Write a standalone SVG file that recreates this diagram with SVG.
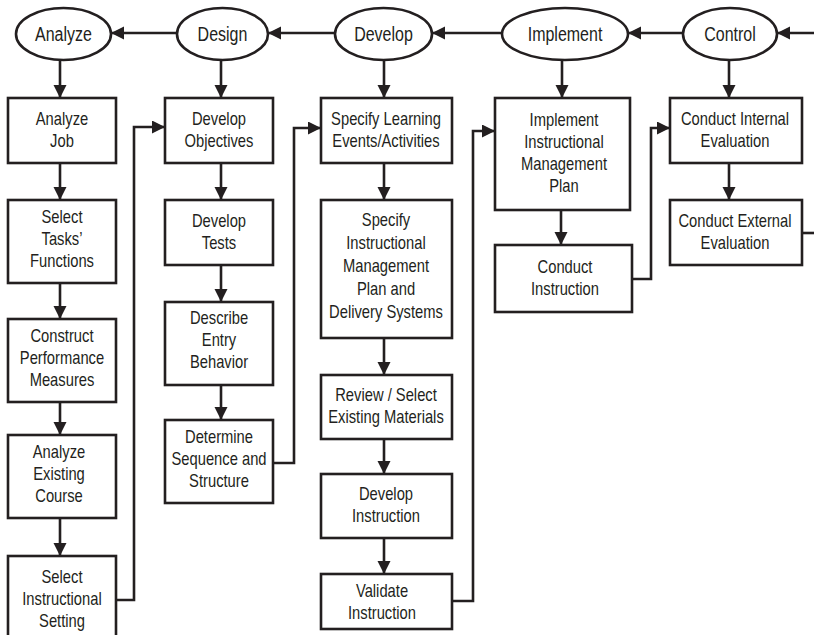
<svg xmlns="http://www.w3.org/2000/svg" width="814" height="635" viewBox="0 0 814 635">
<style>
.bg{fill:#ffffff}
.box{fill:#ffffff;stroke:#231f20;stroke-width:2.6}
.ell{fill:#ffffff;stroke:#231f20;stroke-width:2.6}
.ln{fill:none;stroke:#231f20;stroke-width:2.6}
.arr{marker-end:url(#ah)}
text{font-family:"Liberation Sans",Arial,sans-serif;fill:#231f20;text-anchor:middle}
.t{font-size:18px}
.e{font-size:19.5px}
</style>
<defs>
<marker id="ah" markerUnits="userSpaceOnUse" markerWidth="14" markerHeight="14" refX="13" refY="6.5" orient="auto">
<path d="M0,0 L13,6.5 L0,13 Z" fill="#231f20"/>
</marker>
</defs>
<rect class="bg" x="0" y="0" width="814" height="635"/>

<g id="connectors">
<line class="ln arr" x1="177" y1="33" x2="111" y2="33"/>
<line class="ln arr" x1="335" y1="33" x2="268" y2="33"/>
<line class="ln arr" x1="502" y1="33" x2="432" y2="33"/>
<line class="ln arr" x1="683" y1="33" x2="628" y2="33"/>
<line class="ln arr" x1="814" y1="33" x2="777" y2="33"/>

<line class="ln arr" x1="60" y1="60" x2="60" y2="98"/>
<line class="ln arr" x1="221" y1="60" x2="221" y2="98"/>
<line class="ln arr" x1="384" y1="60" x2="384" y2="98"/>
<line class="ln arr" x1="562" y1="60" x2="562" y2="98"/>
<line class="ln arr" x1="729" y1="60" x2="729" y2="98"/>

<line class="ln arr" x1="60" y1="163" x2="60" y2="200"/>
<line class="ln arr" x1="60" y1="283" x2="60" y2="319"/>
<line class="ln arr" x1="60" y1="402" x2="60" y2="435"/>
<line class="ln arr" x1="60" y1="518" x2="60" y2="556"/>

<line class="ln arr" x1="221" y1="163" x2="221" y2="200"/>
<line class="ln arr" x1="221" y1="265" x2="221" y2="302"/>
<line class="ln arr" x1="221" y1="385" x2="221" y2="420"/>

<line class="ln arr" x1="384" y1="163" x2="384" y2="200"/>
<line class="ln arr" x1="384" y1="338" x2="384" y2="375"/>
<line class="ln arr" x1="384" y1="439" x2="384" y2="474"/>
<line class="ln arr" x1="384" y1="538" x2="384" y2="574"/>

<line class="ln arr" x1="561" y1="210" x2="561" y2="245"/>
<line class="ln arr" x1="729" y1="163" x2="729" y2="200"/>

<polyline class="ln arr" points="116,600 134,600 134,127 165,127"/>
<polyline class="ln arr" points="273,463 294,463 294,128 321,128"/>
<polyline class="ln arr" points="452,601 473,601 473,131 495,131"/>
<polyline class="ln arr" points="632,279 651,279 651,128 670,128"/>
<polyline class="ln" points="802,233 814,233"/>
</g>

<g id="phase-analyze"><ellipse class="ell" cx="63.5" cy="34" rx="47.5" ry="26"/><text class="e" transform="translate(63.5 0) scale(0.82 1)" x="0" y="41">Analyze</text></g>
<g id="phase-design"><ellipse class="ell" cx="222.5" cy="34" rx="45.5" ry="26"/><text class="e" transform="translate(222.5 0) scale(0.82 1)" x="0" y="41">Design</text></g>
<g id="phase-develop"><ellipse class="ell" cx="383.5" cy="34" rx="48.5" ry="26"/><text class="e" transform="translate(383.5 0) scale(0.82 1)" x="0" y="41">Develop</text></g>
<g id="phase-implement"><ellipse class="ell" cx="565" cy="34" rx="63" ry="26"/><text class="e" transform="translate(565 0) scale(0.82 1)" x="0" y="41">Implement</text></g>
<g id="phase-control"><ellipse class="ell" cx="730" cy="34" rx="47" ry="26"/><text class="e" transform="translate(730 0) scale(0.82 1)" x="0" y="41">Control</text></g>

<g id="analyze-job"><rect class="box" x="8" y="98" width="108" height="65"/><text class="t" transform="translate(62 0) scale(0.82 1)"><tspan x="0" y="125">Analyze</tspan><tspan x="0" y="147">Job</tspan></text></g>
<g id="select-tasks"><rect class="box" x="8" y="200" width="108" height="83"/><text class="t" transform="translate(62 0) scale(0.82 1)"><tspan x="0" y="223">Select</tspan><tspan x="0" y="245">Tasks’</tspan><tspan x="0" y="267">Functions</tspan></text></g>
<g id="construct-measures"><rect class="box" x="8" y="319" width="108" height="83"/><text class="t" transform="translate(62 0) scale(0.82 1)"><tspan x="0" y="342">Construct</tspan><tspan x="0" y="364">Performance</tspan><tspan x="0" y="386">Measures</tspan></text></g>
<g id="analyze-course"><rect class="box" x="8" y="435" width="108" height="83"/><text class="t" transform="translate(59 0) scale(0.82 1)"><tspan x="0" y="458">Analyze</tspan><tspan x="0" y="480">Existing</tspan><tspan x="0" y="502">Course</tspan></text></g>
<g id="select-setting"><rect class="box" x="8" y="556" width="108" height="90"/><text class="t" transform="translate(62 0) scale(0.82 1)"><tspan x="0" y="583">Select</tspan><tspan x="0" y="605">Instructional</tspan><tspan x="0" y="627">Setting</tspan></text></g>

<g id="develop-objectives"><rect class="box" x="165" y="98" width="108" height="65"/><text class="t" transform="translate(219 0) scale(0.82 1)"><tspan x="0" y="125">Develop</tspan><tspan x="0" y="147">Objectives</tspan></text></g>
<g id="develop-tests"><rect class="box" x="165" y="200" width="108" height="65"/><text class="t" transform="translate(219 0) scale(0.82 1)"><tspan x="0" y="227">Develop</tspan><tspan x="0" y="249">Tests</tspan></text></g>
<g id="entry-behavior"><rect class="box" x="165" y="302" width="108" height="83"/><text class="t" transform="translate(219 0) scale(0.82 1)"><tspan x="0" y="324">Describe</tspan><tspan x="0" y="346">Entry</tspan><tspan x="0" y="368">Behavior</tspan></text></g>
<g id="sequence-structure"><rect class="box" x="165" y="420" width="108" height="83"/><text class="t" transform="translate(219 0) scale(0.82 1)"><tspan x="0" y="443">Determine</tspan><tspan x="0" y="465">Sequence and</tspan><tspan x="0" y="487">Structure</tspan></text></g>

<g id="learning-events"><rect class="box" x="321" y="98" width="131" height="65"/><text class="t" transform="translate(386 0) scale(0.82 1)"><tspan x="0" y="125">Specify Learning</tspan><tspan x="0" y="147">Events/Activities</tspan></text></g>
<g id="management-plan"><rect class="box" x="321" y="200" width="131" height="138"/><text class="t" transform="translate(386 0) scale(0.82 1)"><tspan x="0" y="226">Specify</tspan><tspan x="0" y="249">Instructional</tspan><tspan x="0" y="272">Management</tspan><tspan x="0" y="295">Plan and</tspan><tspan x="0" y="318">Delivery Systems</tspan></text></g>
<g id="existing-materials"><rect class="box" x="321" y="375" width="131" height="64"/><text class="t" transform="translate(386 0) scale(0.82 1)"><tspan x="0" y="401">Review / Select</tspan><tspan x="0" y="423">Existing Materials</tspan></text></g>
<g id="develop-instruction"><rect class="box" x="321" y="474" width="131" height="64"/><text class="t" transform="translate(386 0) scale(0.82 1)"><tspan x="0" y="500">Develop</tspan><tspan x="0" y="522">Instruction</tspan></text></g>
<g id="validate-instruction"><rect class="box" x="321" y="574" width="131" height="55"/><text class="t" transform="translate(382 0) scale(0.82 1)"><tspan x="0" y="597">Validate</tspan><tspan x="0" y="619">Instruction</tspan></text></g>

<g id="implement-plan"><rect class="box" x="495" y="98" width="135" height="112"/><text class="t" transform="translate(564 0) scale(0.82 1)"><tspan x="0" y="126">Implement</tspan><tspan x="0" y="148">Instructional</tspan><tspan x="0" y="170">Management</tspan><tspan x="0" y="192">Plan</tspan></text></g>
<g id="conduct-instruction"><rect class="box" x="495" y="245" width="137" height="67"/><text class="t" transform="translate(565 0) scale(0.82 1)"><tspan x="0" y="273">Conduct</tspan><tspan x="0" y="295">Instruction</tspan></text></g>

<g id="internal-evaluation"><rect class="box" x="670" y="98" width="132" height="65"/><text class="t" transform="translate(735 0) scale(0.82 1)"><tspan x="0" y="125">Conduct Internal</tspan><tspan x="0" y="147">Evaluation</tspan></text></g>
<g id="external-evaluation"><rect class="box" x="670" y="200" width="132" height="65"/><text class="t" transform="translate(735 0) scale(0.82 1)"><tspan x="0" y="227">Conduct External</tspan><tspan x="0" y="249">Evaluation</tspan></text></g>
</svg>
